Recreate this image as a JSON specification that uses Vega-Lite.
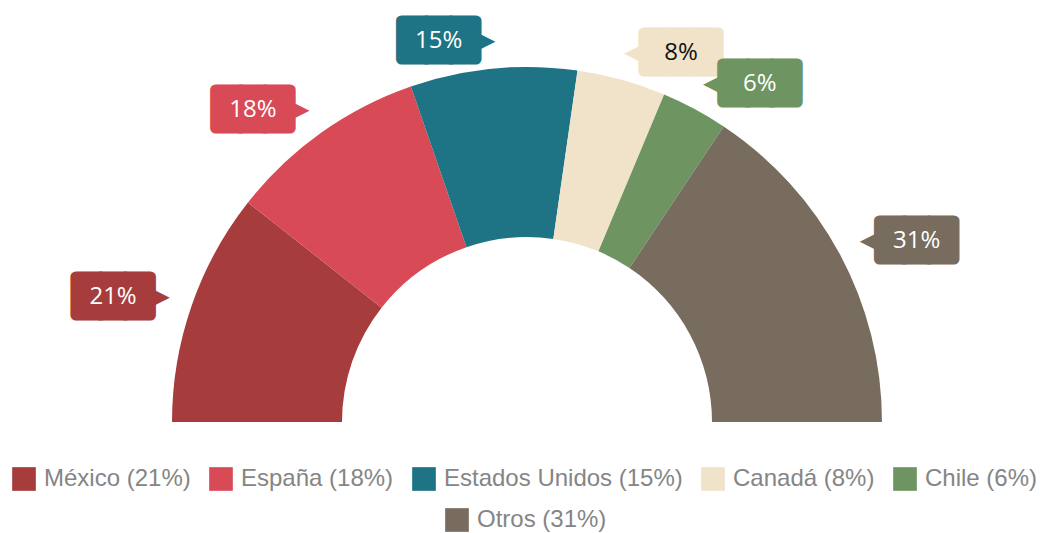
{
  "$schema": "https://vega.github.io/schema/vega-lite/v6.json",
  "width": 1036,
  "height": 422,
  "autosize": {"type": "none"},
  "padding": {"left": 9, "top": 0, "right": 0, "bottom": 111},
  "background": "white",
  "config": {"view": {"stroke": null}},
  "data": {
    "values": [
      {"pais": "México (21%)", "valor": 0.21, "orden": 1},
      {"pais": "España (18%)", "valor": 0.18, "orden": 2},
      {"pais": "Estados Unidos (15%)", "valor": 0.15, "orden": 3},
      {"pais": "Canadá (8%)", "valor": 0.08, "orden": 4},
      {"pais": "Chile (6%)", "valor": 0.06, "orden": 5},
      {"pais": "Otros (31%)", "valor": 0.31, "orden": 6}
    ]
  },
  "encoding": {
    "theta": {"field": "valor", "type": "quantitative", "stack": true, "scale": {"range": [-1.5707963, 1.5707963]}},
    "order": {"field": "orden", "type": "quantitative"}
  },
  "layer": [
    {
      "mark": {"type": "arc", "outerRadius": 355, "innerRadius": 185, "y": "height", "strokeWidth": 0.5},
      "encoding": {
        "color": {
          "field": "pais", "type": "nominal",
          "scale": {
            "domain": ["México (21%)", "España (18%)", "Estados Unidos (15%)", "Canadá (8%)", "Chile (6%)", "Otros (31%)"],
            "range": ["#A63C3C", "#D94A57", "#1E7484", "#F0E3C9", "#6E9462", "#786C5F"]
          },
          "legend": {
            "values": ["México (21%)", "España (18%)", "Estados Unidos (15%)", "Canadá (8%)", "Chile (6%)"],
            "orient": "none", "legendX": 3, "legendY": 467, "direction": "horizontal",
            "title": null, "symbolType": "square", "symbolSize": 560, "symbolStrokeWidth": 0,
            "labelFontSize": 24, "labelFont": "Liberation Sans", "labelColor": "#858585", "labelLimit": 500,
            "columnPadding": 18, "labelOffset": 8, "padding": 0
          }
        }
      }
    },
    {
      "mark": {"type": "text", "radius": 383, "y": "height", "dx": -52, "font": "DejaVu Sans", "fontSize": 32, "baseline": "middle", "align": "center", "strokeWidth": 11, "strokeJoin": "round"},
      "encoding": {
        "detail": {"field": "pais"},
        "text": {"condition": {"test": "datum.orden <= 3", "value": "███"}, "value": ""},
        "fill": {
          "field": "pais", "type": "nominal",
          "scale": {
            "domain": ["Otros (31%)", "México (21%)", "España (18%)", "Estados Unidos (15%)", "Canadá (8%)", "Chile (6%)"],
            "range": ["#786C5F", "#A63C3C", "#D94A57", "#1E7484", "#F0E3C9", "#6E9462"]
          },
          "legend": {
            "values": ["Otros (31%)"],
            "orient": "none", "legendX": 436, "legendY": 508, "direction": "horizontal",
            "title": null, "symbolType": "square", "symbolSize": 560, "symbolStrokeWidth": 0,
            "labelFontSize": 24, "labelFont": "Liberation Sans", "labelColor": "#858585", "labelLimit": 500,
            "labelOffset": 8, "padding": 0
          }
        },
        "stroke": {
          "field": "pais", "type": "nominal",
          "scale": {
            "domain": ["México (21%)", "España (18%)", "Estados Unidos (15%)", "Canadá (8%)", "Chile (6%)", "Otros (31%)"],
            "range": ["#A63C3C", "#D94A57", "#1E7484", "#F0E3C9", "#6E9462", "#786C5F"]
          },
          "legend": null
        }
      }
    },
    {
      "mark": {"type": "text", "radius": 383, "y": "height", "dx": 52, "font": "DejaVu Sans", "fontSize": 32, "baseline": "middle", "align": "center", "strokeWidth": 11, "strokeJoin": "round"},
      "encoding": {
        "detail": {"field": "pais"},
        "text": {"condition": {"test": "datum.orden > 3", "value": "███"}, "value": ""},
        "fill": {"field": "pais", "type": "nominal"},
        "stroke": {"field": "pais", "type": "nominal", "legend": null}
      }
    },
    {
      "mark": {"type": "text", "radius": 383, "y": "height", "dx": -6, "font": "DejaVu Sans", "fontSize": 28, "baseline": "middle", "align": "center"},
      "encoding": {
        "detail": {"field": "pais"},
        "text": {"condition": {"test": "datum.orden <= 3", "value": "▶"}, "value": ""},
        "fill": {"field": "pais", "type": "nominal"}
      }
    },
    {
      "mark": {"type": "text", "radius": 383, "y": "height", "dx": 6, "font": "DejaVu Sans", "fontSize": 28, "baseline": "middle", "align": "center"},
      "encoding": {
        "detail": {"field": "pais"},
        "text": {"condition": {"test": "datum.orden > 3", "value": "◀"}, "value": ""},
        "fill": {"field": "pais", "type": "nominal"}
      }
    },
    {
      "mark": {"type": "text", "radius": 383, "y": "height", "dx": -52, "font": "Open Sans", "fontSize": 24, "baseline": "middle", "align": "center"},
      "encoding": {
        "detail": {"field": "pais"},
        "text": {"condition": {"test": "datum.orden <= 3", "field": "valor", "type": "quantitative", "format": ".0%"}, "value": ""},
        "color": {"value": "#ffffff"}
      }
    },
    {
      "mark": {"type": "text", "radius": 383, "y": "height", "dx": 52, "font": "Open Sans", "fontSize": 24, "baseline": "middle", "align": "center"},
      "encoding": {
        "detail": {"field": "pais"},
        "text": {"condition": {"test": "datum.orden > 3", "field": "valor", "type": "quantitative", "format": ".0%"}, "value": ""},
        "color": {"condition": {"test": "datum.orden == 4", "value": "#111111"}, "value": "#ffffff"}
      }
    }
  ]
}
